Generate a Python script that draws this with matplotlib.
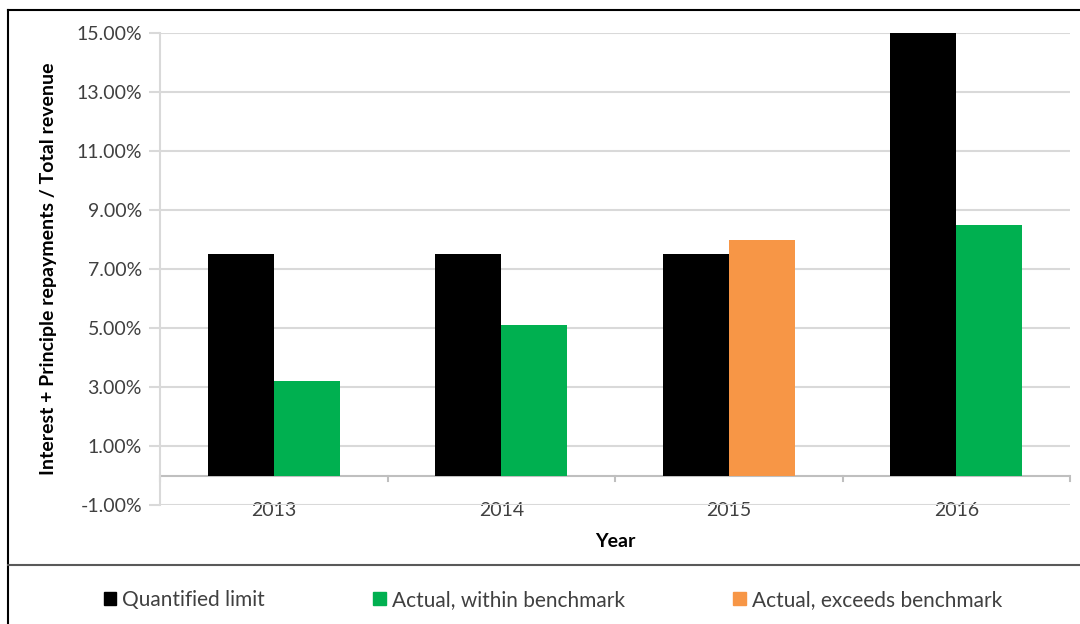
import matplotlib.pyplot as plt
import numpy as np
from matplotlib.lines import Line2D
from matplotlib.patches import Patch

# ---------------- Data ----------------
YEARS = ['2013', '2014', '2015', '2016']
QUANTIFIED_LIMIT = [7.5, 7.5, 7.5, 15.0]
ACTUAL = [3.2, 5.1, 8.0, 8.5]
EXCEEDS = [False, False, True, False]
Y_TICKS = [-1, 1, 3, 5, 7, 9, 11, 13, 15]

BLACK = '#000000'
GREEN = '#00b050'
ORANGE = '#f79646'
GRID = '#d9d9d9'
TEXT = '#404040'

plt.rcParams['font.family'] = ['Lato', 'DejaVu Sans']

W, H = 1080, 624
fig = plt.figure(figsize=(W / 100, H / 100), dpi=100)

# plot area in pixel coords
left, right, top, bottom = 160, 1070, 33, 505
ax = fig.add_axes([left / W, 1 - bottom / H, (right - left) / W, (bottom - top) / H])

x = np.arange(len(YEARS))
bw = 0.29
ax.bar(x - bw / 2, QUANTIFIED_LIMIT, bw, color=BLACK, zorder=3)
ax.bar(x + bw / 2, ACTUAL, bw,
       color=[ORANGE if e else GREEN for e in EXCEEDS], zorder=3)

ax.set_xlim(-0.5, len(YEARS) - 0.5)
ax.set_ylim(-1, 15)
ax.set_yticks(Y_TICKS)
ax.set_yticklabels([f'{v:.2f}%' for v in Y_TICKS], fontsize=14, color=TEXT)
ax.yaxis.grid(True, color=GRID, linewidth=1.5, zorder=0)
ax.tick_params(axis='y', length=8, color=GRID, width=1.5, pad=5)

for s in ['top', 'right', 'bottom']:
    ax.spines[s].set_visible(False)
ax.spines['left'].set_color(GRID)
ax.spines['left'].set_linewidth(1.5)

# category labels at the bottom of the plot, on the -1% gridline
ax.set_xticks(x)
ax.set_xticklabels(YEARS, fontsize=14, color=TEXT)
ax.tick_params(axis='x', length=0, pad=-2)

# horizontal category axis at 0 with tick marks between categories
ax.axhline(0, color='#bfbfbf', linewidth=1.5, zorder=2)
for b in np.arange(len(YEARS) + 1) - 0.5:
    ax.plot([b, b], [0, -0.17], color='#bfbfbf', linewidth=1.5, zorder=2, clip_on=False)

ax.set_xlabel('Year', fontsize=14, fontweight='bold', color=BLACK, labelpad=10)
ax.set_ylabel('Interest + Principle repayments / Total revenue', fontsize=14,
              fontweight='bold', color=BLACK, labelpad=14)

# frame lines
fig.add_artist(Line2D([8 / W, 1], [1 - 10 / H, 1 - 10 / H], color='black', linewidth=1.5))
fig.add_artist(Line2D([8 / W, 8 / W], [0, 1 - 10 / H], color='black', linewidth=1.5))
fig.add_artist(Line2D([8 / W, 1], [1 - 565 / H, 1 - 565 / H], color='#595959', linewidth=1.5))

handles = [Patch(color=BLACK), Patch(color=GREEN), Patch(color=ORANGE)]
labels = ['Quantified limit', 'Actual, within benchmark', 'Actual, exceeds benchmark']
fig.legend(handles, labels, loc='center', bbox_to_anchor=(553 / W, 1 - 600 / H),
           ncol=3, frameon=False, fontsize=15, handlelength=0.6, handleheight=0.6,
           handletextpad=0.3, columnspacing=5.2, labelcolor=TEXT)

fig.savefig('out.png', dpi=100)
